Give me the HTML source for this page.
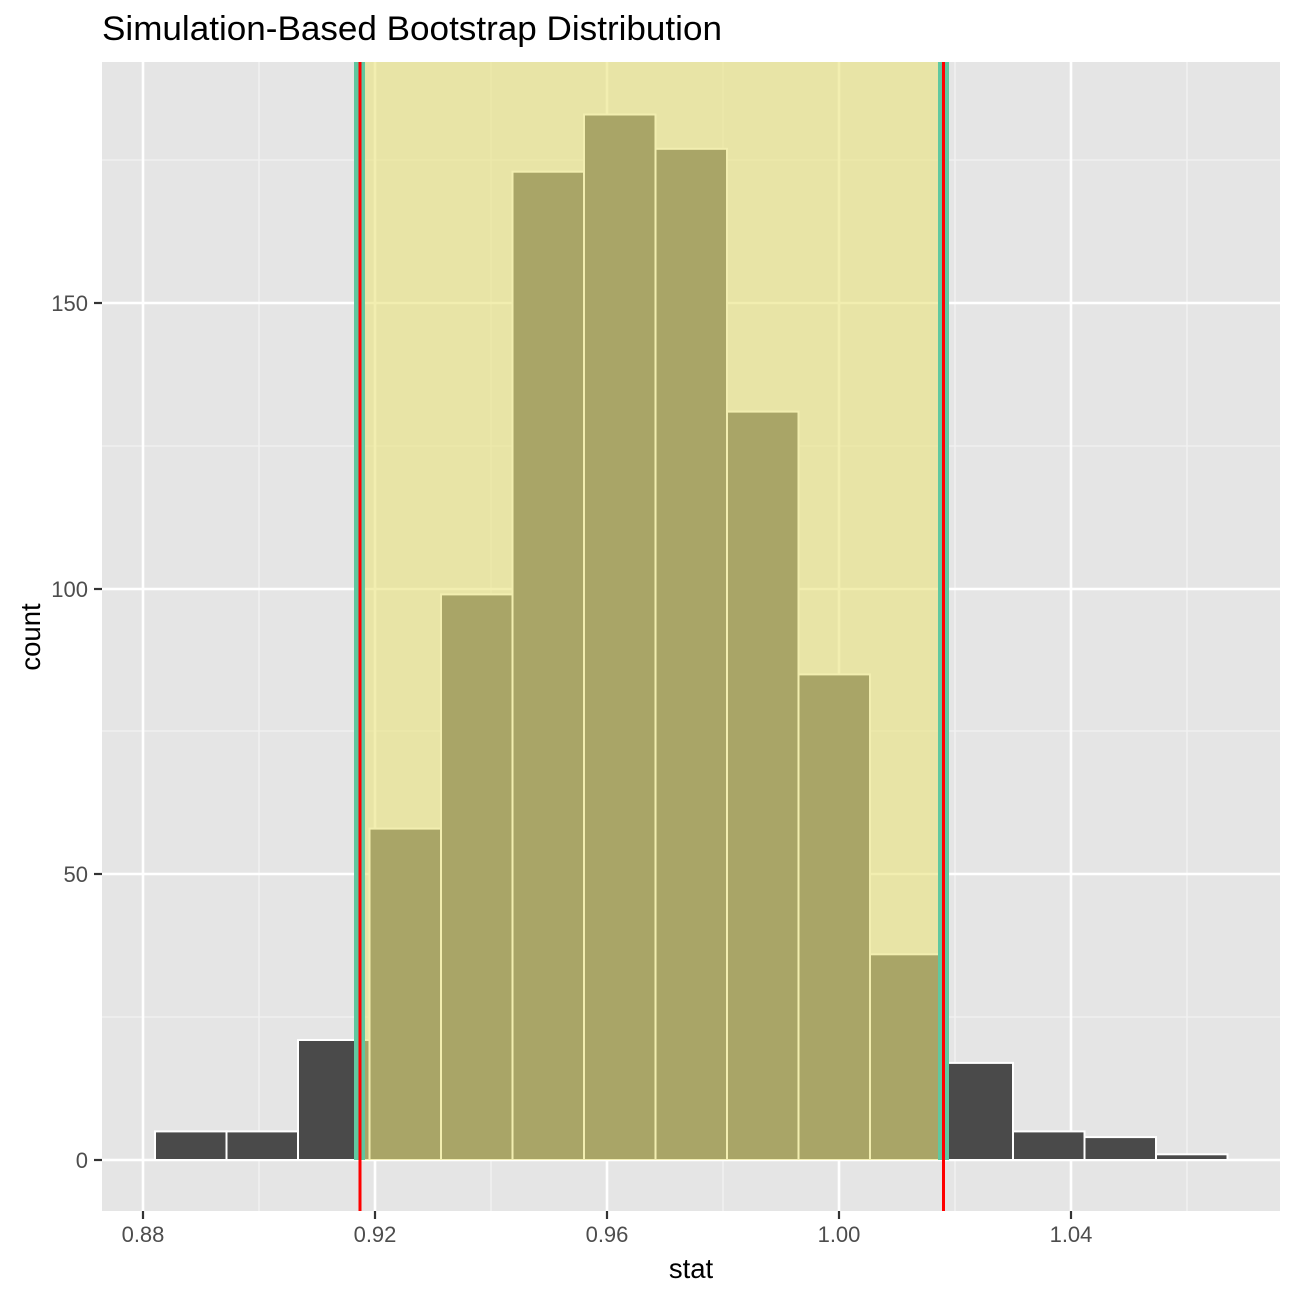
<!DOCTYPE html>
<html><head><style>body{margin:0;background:#fff}svg{display:block}</style></head><body>
<svg width="1296" height="1296" xmlns="http://www.w3.org/2000/svg" font-family="Liberation Sans, Arial, sans-serif">
<rect x="0" y="0" width="1296" height="1296" fill="#fff"/>
<rect x="102" y="62" width="1178" height="1149" fill="#e5e5e5"/>
<g stroke="#f2f2f2" stroke-width="1.3">
<line x1="259" y1="62" x2="259" y2="1211"/><line x1="491" y1="62" x2="491" y2="1211"/><line x1="723" y1="62" x2="723" y2="1211"/><line x1="955" y1="62" x2="955" y2="1211"/><line x1="1187" y1="62" x2="1187" y2="1211"/>
<line x1="102" y1="1017" x2="1280" y2="1017"/><line x1="102" y1="731" x2="1280" y2="731"/><line x1="102" y1="446" x2="1280" y2="446"/><line x1="102" y1="160" x2="1280" y2="160"/>
</g>
<g stroke="#fff" stroke-width="2.6">
<line x1="143" y1="62" x2="143" y2="1211"/><line x1="375" y1="62" x2="375" y2="1211"/><line x1="607" y1="62" x2="607" y2="1211"/><line x1="839" y1="62" x2="839" y2="1211"/><line x1="1071" y1="62" x2="1071" y2="1211"/>
<line x1="102" y1="1160" x2="1280" y2="1160"/><line x1="102" y1="874" x2="1280" y2="874"/><line x1="102" y1="589" x2="1280" y2="589"/><line x1="102" y1="303" x2="1280" y2="303"/>
</g>
<g fill="#4a4a4a" stroke="#fff" stroke-width="2">
<rect x="155" y="1131.4" width="71.5" height="28.6"/>
<rect x="226.5" y="1131.4" width="71.5" height="28.6"/>
<rect x="298" y="1040" width="71.5" height="120"/>
<rect x="369.5" y="828.6" width="71.5" height="331.4"/>
<rect x="441" y="594.4" width="71.5" height="565.6"/>
<rect x="512.5" y="171.7" width="71.5" height="988.3"/>
<rect x="584" y="114.5" width="71.5" height="1045.5"/>
<rect x="655.5" y="148.8" width="71.5" height="1011.2"/>
<rect x="727" y="411.6" width="71.5" height="748.4"/>
<rect x="798.5" y="674.4" width="71.5" height="485.6"/>
<rect x="870" y="954.3" width="71.5" height="205.7"/>
<rect x="941.5" y="1062.9" width="71.5" height="97.1"/>
<rect x="1013" y="1131.4" width="71.5" height="28.6"/>
<rect x="1084.5" y="1137.1" width="71.5" height="22.9"/>
<rect x="1156" y="1154.3" width="71.5" height="5.7"/>
</g>
<rect x="359.5" y="62" width="584" height="1098" fill="rgb(233,227,124)" fill-opacity="0.6"/>
<rect x="354" y="62" width="11" height="1098" fill="#5fc8a0"/>
<rect x="938" y="62" width="11" height="1098" fill="#5fc8a0"/>
<rect x="358.5" y="62" width="3" height="1149" fill="#ff0000"/>
<rect x="942" y="62" width="3" height="1149" fill="#ff0000"/>
<g stroke="#333" stroke-width="2.2">
<line x1="143" y1="1211" x2="143" y2="1219"/><line x1="375" y1="1211" x2="375" y2="1219"/><line x1="607" y1="1211" x2="607" y2="1219"/><line x1="839" y1="1211" x2="839" y2="1219"/><line x1="1071" y1="1211" x2="1071" y2="1219"/>
<line x1="94" y1="1160" x2="102" y2="1160"/><line x1="94" y1="874" x2="102" y2="874"/><line x1="94" y1="589" x2="102" y2="589"/><line x1="94" y1="303" x2="102" y2="303"/>
</g>
<g fill="#4d4d4d" font-size="22" text-anchor="middle">
<text x="143" y="1242">0.88</text><text x="375" y="1242">0.92</text><text x="607" y="1242">0.96</text><text x="839" y="1242">1.00</text><text x="1071" y="1242">1.04</text>
</g>
<g fill="#4d4d4d" font-size="22" text-anchor="end">
<text x="88" y="1168">0</text><text x="88" y="882">50</text><text x="88" y="597">100</text><text x="88" y="311">150</text>
</g>
<text x="691" y="1278" font-size="27.5" text-anchor="middle" fill="#000">stat</text>
<text transform="translate(40,637) rotate(-90)" font-size="27.5" text-anchor="middle" fill="#000">count</text>
<text x="102" y="40" font-size="34.5" fill="#000" textLength="620" lengthAdjust="spacingAndGlyphs">Simulation-Based Bootstrap Distribution</text>
</svg>
</body></html>
